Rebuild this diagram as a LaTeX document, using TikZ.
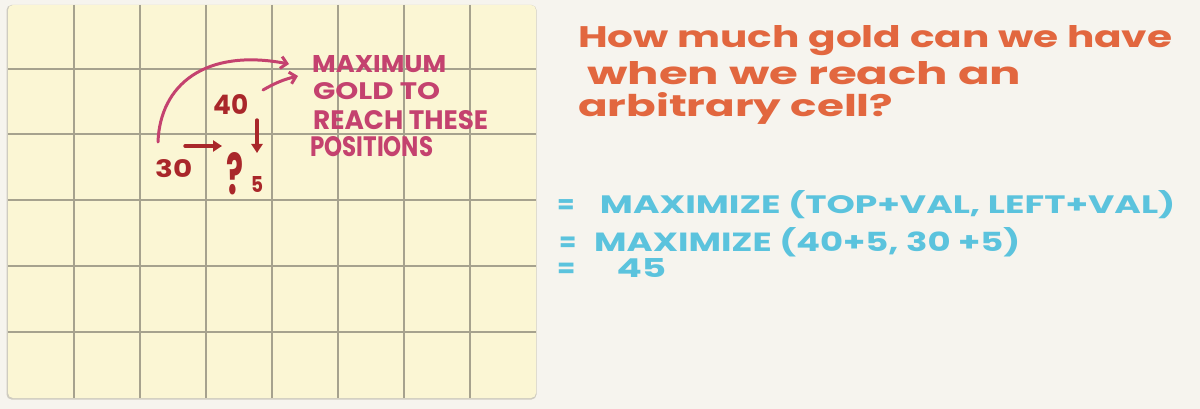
\documentclass[tikz,border=0pt]{standalone}
\usepackage{fontspec}
\setmainfont{Poppins}
\usepackage{graphicx}
\usetikzlibrary{arrows.meta}
\definecolor{paper}{HTML}{F6F4EE}
\definecolor{pad}{HTML}{FBF6D4}
\definecolor{padshadow}{HTML}{CFCCC0}
\definecolor{gridc}{HTML}{A6A28E}
\definecolor{orangeink}{HTML}{E2673F}
\definecolor{blueink}{HTML}{5BC3DD}
\definecolor{pinkink}{HTML}{C4426F}
\definecolor{redink}{HTML}{A9272A}
\newcommand{\narroweq}{\scalebox{0.7}[1]{=}}
\begin{document}
\begin{tikzpicture}[x=1pt,y=-1pt,
  txt/.style={inner sep=0pt, anchor=base west, font=\bfseries},
  gridline/.style={draw=gridc, line width=1.3pt},
  redarrow/.style={draw=redink, line width=3.4pt, line cap=round, -{Triangle[length=9pt,width=11pt]}},
  pinkarrow/.style={draw=pinkink, line width=3pt, line cap=round, line join=round, -{Straight Barb[length=6pt,width=12pt,line width=3pt]}}]
\useasboundingbox (0,0) rectangle (1200,409);
\fill[paper] (0,0) rectangle (1200,409);
% pad
\fill[padshadow, rounded corners=5pt] (6.5,5) rectangle (536.5,399.5);
\fill[pad, rounded corners=5pt] (8,5) rectangle (536,398);
\foreach \gx in {74,140,206,272,338,404,470}
  \draw[gridline] (\gx,5) -- (\gx,398);
\foreach \gy in {69,134,200,266,332}
  \draw[gridline] (8,\gy) -- (536,\gy);

% orange question
\node[txt, text=orangeink] (q1) at (578,48) {\resizebox{594pt}{22pt}{How much gold can we have}};
\node[txt, text=orangeink] (q2) at (587,85) {\resizebox{434pt}{23pt}{when we reach an}};
\node[txt, text=orangeink] (q3) at (578,117) {\resizebox{315pt}{24pt}{arbitrary cell?}};

% blue equations
\node[txt, text=blueink] (e1) at (557,214) {\resizebox{618pt}{23pt}{\narroweq\hspace{0.7em}MAXIMIZE (TOP+VAL, LEFT+VAL)}};
\node[txt, text=blueink] (e2) at (559,251) {\resizebox{461pt}{24pt}{\narroweq\hspace{0.5em}MAXIMIZE (40+5, 30 +5)}};
\node[txt, text=blueink] (e3) at (557,277) {\resizebox{109pt}{19pt}{\narroweq\hspace{1.1em}45}};

% pink label
\node[txt, text=pinkink] (l1) at (312,73) {\resizebox{134pt}{17pt}{MAXIMUM}};
\node[txt, text=pinkink] (l2) at (313,100) {\resizebox{127pt}{17pt}{GOLD TO}};
\node[txt, text=pinkink] (l3) at (313,130) {\resizebox{175pt}{19pt}{REACH THESE}};
\node[txt, text=pinkink] (l4) at (310,157) {\resizebox{123pt}{20pt}{POSITIONS}};

% numbers
\node[txt, text=redink] (n40) at (213,115) {\resizebox{35pt}{20pt}{40}};
\node[txt, text=redink] (n30) at (155,178) {\resizebox{37pt}{18pt}{30}};
\node[txt, text=redink] (nq) at (226,195) {\resizebox{17pt}{42pt}{?}};
\node[txt, text=redink] (n5) at (251,193) {\resizebox{12pt}{16pt}{5}};

% arrows
\coordinate (ra1) at (185,146);
\coordinate (ra2) at (222,146);
\draw[redarrow] (ra1) -- (ra2);
\coordinate (da1) at (257,120);
\coordinate (da2) at (257,153);
\draw[redarrow] (da1) -- (da2);
\coordinate (pa1) at (158,142);
\coordinate (pa2) at (289,64);
\draw[pinkarrow] (pa1) .. controls (160,85) and (205,48) .. (pa2);
\coordinate (pb1) at (263,90);
\coordinate (pb2) at (298,76);
\draw[pinkarrow] (pb1) to[bend left=8] (pb2);
\end{tikzpicture}
\end{document}
